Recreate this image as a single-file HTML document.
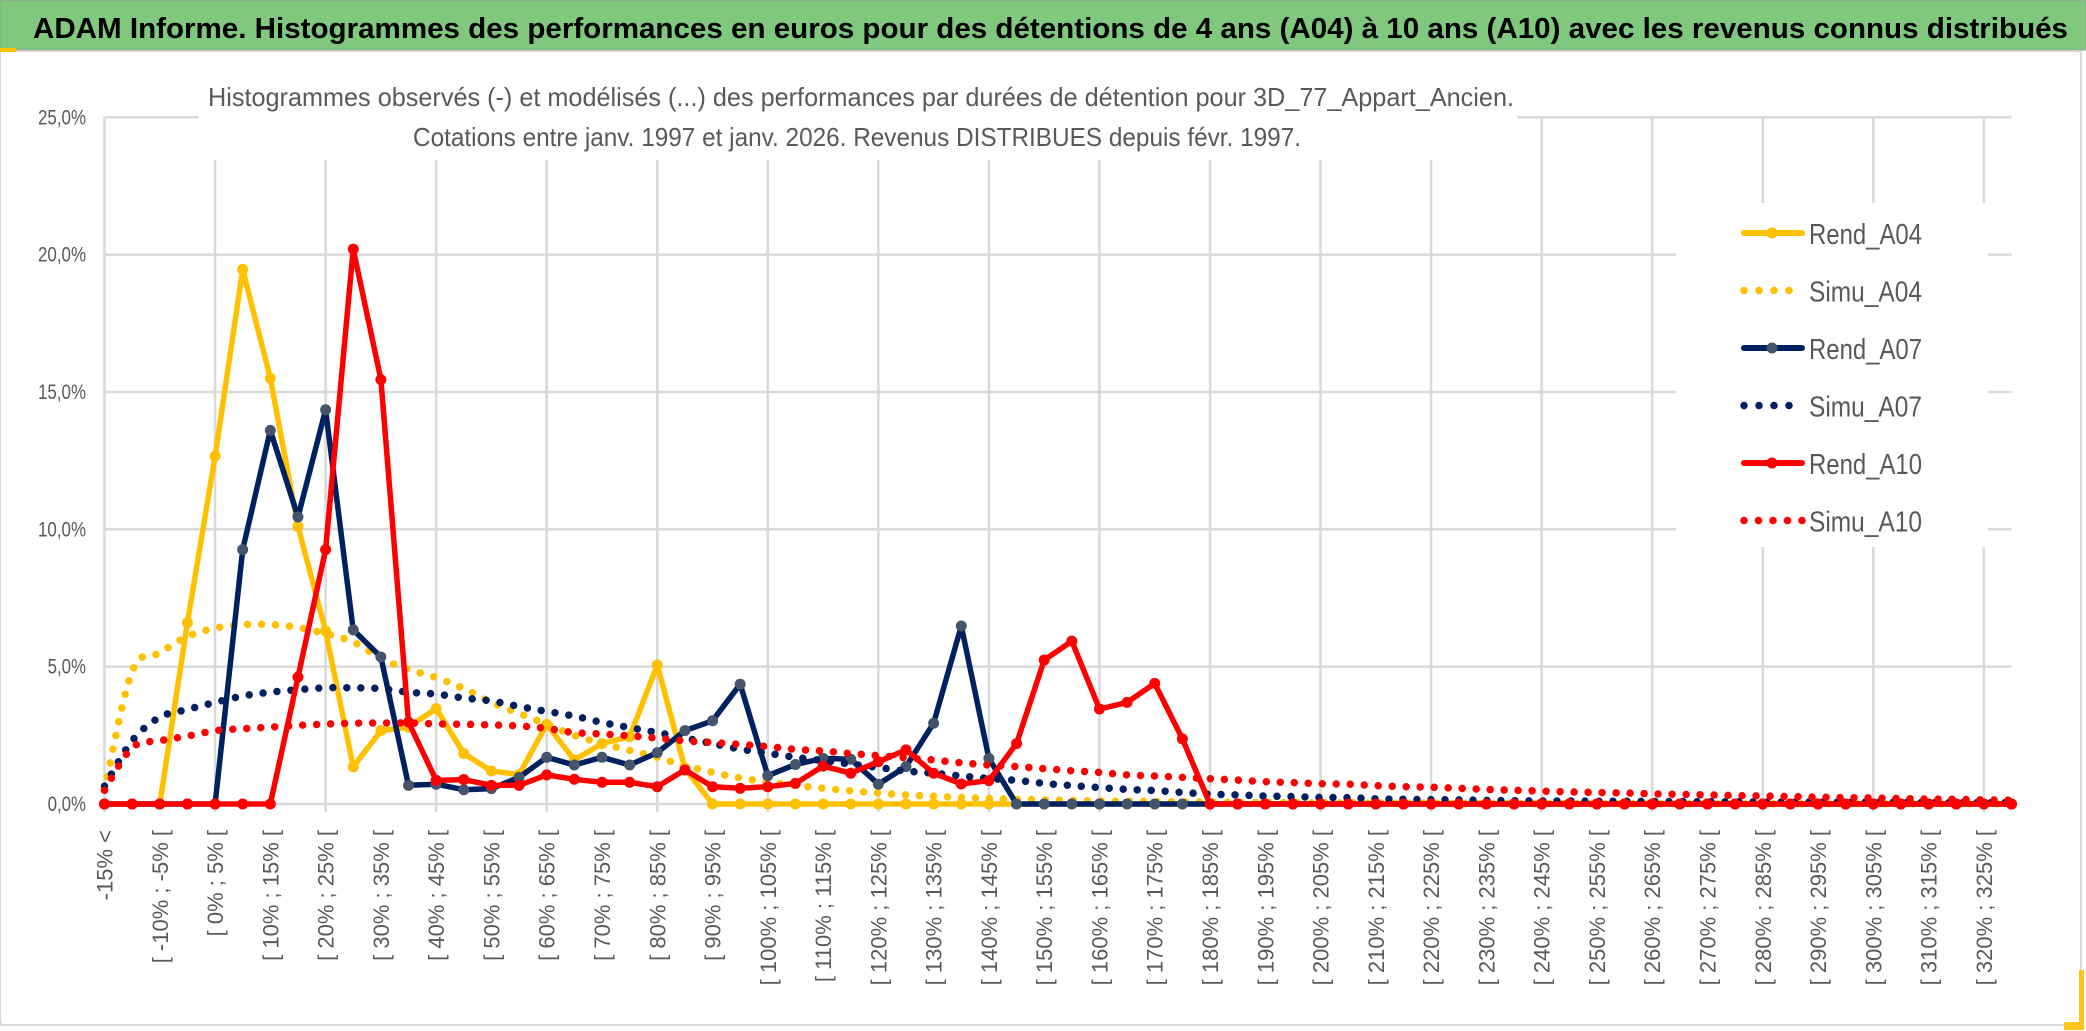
<!DOCTYPE html>
<html><head><meta charset="utf-8"><style>
html,body{margin:0;padding:0;background:#fff;}
svg{display:block;font-family:"Liberation Sans",Arial,sans-serif;}
</style></head><body>
<svg id="chart" width="2086" height="1031" viewBox="0 0 2086 1031" xmlns="http://www.w3.org/2000/svg">
  <rect x="0" y="0" width="2086" height="1031" fill="#fff"/>
  <rect x="1" y="52" width="2080" height="973" fill="#fff" stroke="#d9d9d9" stroke-width="2"/>
  <rect x="0" y="0" width="2086" height="50" fill="#7fc87e" stroke="#9a9a9a" stroke-width="1"/>
  <rect x="0" y="48" width="16" height="4" fill="#ffc000"/>
  <rect x="2064" y="970" width="20" height="60" fill="#ffc000" opacity="0.9"/>
  <rect x="1" y="52" width="2078" height="970" fill="#fff"/>
  <text x="33" y="38" font-size="29" font-weight="bold" fill="#000" textLength="2035" lengthAdjust="spacingAndGlyphs">ADAM Informe. Histogrammes des performances en euros pour des détentions de 4 ans (A04) à 10 ans (A10) avec les revenus connus distribués</text>
  <g id="grid"></g>
  <g id="yticks"></g>
  <g id="xticks"></g>
  <rect x="198" y="70" width="1319" height="90" fill="#fff"/>
  <text x="208" y="106" font-size="26" fill="#595959" textLength="1306" lengthAdjust="spacingAndGlyphs">Histogrammes observés (-) et modélisés (...) des performances  par durées de détention pour 3D_77_Appart_Ancien.</text>
  <text x="413" y="146" font-size="26" fill="#595959" textLength="888" lengthAdjust="spacingAndGlyphs">Cotations entre janv. 1997 et janv. 2026. Revenus DISTRIBUES depuis févr. 1997.</text>
  <g id="series"></g>
  <rect x="1676" y="203" width="312" height="344" fill="#fff"/>
  <g id="legend"></g>
</svg>
<script>
const categories = (function(){ const c=["-15% <"]; for(let k=1;k<70;k++){const lo=5*k-20; c.push("[ "+lo+"% ; "+(lo+5)+"% [");} return c; })();
const yTicks = [0,5,10,15,20,25];
const yTickLabels = ["0,0%","5,0%","10,0%","15,0%","20,0%","25,0%"];
const rendA04 = [0,0,0,6.6,12.66,19.46,15.5,10.1,6.3,1.35,2.67,2.8,3.47,1.84,1.2,1.07,2.9,1.6,2.2,2.45,5.06,1.3,
 0,0,0,0,0,0,0,0,0,0,0,0,0,0,0,0,0,0,0,0,0,0,0,0,0,0,0,0,0,0,0,0,0,0,0,0,0,0,0,0,0,0,0,0,0,0,0,0];
const simuA04 = [0.5,4.83,5.5,6.1,6.4,6.53,6.53,6.43,6.2,5.9,5.3,4.9,4.6,4.2,3.7,3.3,2.9,
 2.5,2.2,1.95,1.7,1.4,1.15,0.95,0.8,0.68,0.57,0.48,0.4,0.33,0.28,0.24,0.2,0.17,0.15,
 0.13,0.11,0.1,0.09,0.08,0.07,0.06,0.05,0.05,0.04,0.04,0.03,0.03,0.03,0.02,0.02,0.02,0.02,0.02,0.01,0.01,0.01,0.01,0.01,0.01,0.01,0.01,0.01,0.01,0.01,0.01,0.01,0.01,0.01,0.01];
const rendA07 = [0,0,0,0,0,9.26,13.6,10.45,14.35,6.34,5.35,0.68,0.72,0.52,0.56,0.97,1.7,1.42,1.7,1.42,1.87,2.67,3.03,4.36,1.03,1.44,1.66,1.63,0.72,1.36,2.94,6.48,1.66,
 0,0,0,0,0,0,0,0,0,0,0,0,0,0,0,0,0,0,0,0,0,0,0,0,0,0,0,0,0,0,0,0,0,0,0,0,0];
const simuA07 = [0.65,2.3,3.16,3.44,3.7,3.93,4.07,4.16,4.23,4.23,4.2,4.07,4.0,3.86,3.75,3.55,3.37,
 3.2,2.97,2.78,2.6,2.4,2.2,2.0,1.85,1.7,1.58,1.45,1.33,1.2,1.12,1.02,0.93,0.86,0.75,
 0.67,0.6,0.53,0.49,0.42,0.36,0.33,0.29,0.27,0.24,0.23,0.19,0.17,0.16,0.15,0.13,0.12,
 0.11,0.11,0.1,0.1,0.09,0.09,0.08,0.08,0.07,0.07,0.07,0.06,0.06,0.06,0.05,0.05,0.05,0.05];
const rendA10 = [0,0,0,0,0,0,0,4.62,9.26,20.2,15.45,2.98,0.86,0.89,0.68,0.68,1.06,0.9,0.79,0.79,0.63,1.24,0.63,0.57,0.63,0.75,1.38,1.12,1.54,1.97,1.12,0.73,0.85,2.2,5.24,5.93,3.46,3.7,4.39,2.37,
 0,0,0,0,0,0,0,0,0,0,0,0,0,0,0,0,0,0,0,0,0,0,0,0,0,0,0,0,0,0];
const simuA10 = [0.5,2.05,2.3,2.47,2.67,2.74,2.8,2.86,2.91,2.94,2.95,2.95,2.92,2.9,2.88,2.84,2.75,
 2.6,2.55,2.48,2.4,2.3,2.24,2.17,2.09,1.99,1.93,1.84,1.76,1.68,1.6,1.5,1.42,1.36,
 1.29,1.21,1.15,1.06,1.02,0.97,0.92,0.87,0.81,0.78,0.74,0.72,0.67,0.63,0.61,0.57,0.53,0.5,0.47,
 0.44,0.42,0.4,0.37,0.35,0.33,0.31,0.29,0.27,0.25,0.23,0.22,0.2,0.18,0.17,0.15,0.14];

const NS="http://www.w3.org/2000/svg";
const X0=104.5, X1=2011.5, Y0=804, PX_PER_PCT=27.47;
function xAt(i){ return X0 + i*(X1-X0)/(categories.length-1); }
function yAt(v){ return Y0 - v*PX_PER_PCT; }
function mk(tag, attrs, parent){ const e=document.createElementNS(NS,tag); for(const k in attrs) e.setAttribute(k, attrs[k]); parent.appendChild(e); return e; }

const grid=document.getElementById('grid');
yTicks.forEach(function(t){
  const l=mk('line',{x1:X0,x2:X1,y1:yAt(t),y2:yAt(t),stroke:'#d9d9d9','stroke-width':2.5},grid);
  
  
});
for(let i=0;i<categories.length;i+=4){
  const l=mk('line',{x1:xAt(i),x2:xAt(i),y1:yAt(25),y2:Y0+8,stroke:'#d9d9d9','stroke-width':2.5},grid);
  
  
}
const yt=document.getElementById('yticks');
yTicks.forEach(function(t,k){
  const tx=mk('text',{x:86,y:yAt(t)+7,'text-anchor':'end','font-size':21,fill:'#595959',textLength:yTickLabels[k].length*9.6,lengthAdjust:'spacingAndGlyphs'},yt);
  tx.textContent=yTickLabels[k];
  
  
});
const xt=document.getElementById('xticks');
for(let i=0;i<categories.length;i+=2){
  const x=xAt(i)+8, y=830;
  const tx=mk('text',{x:x,y:y,'text-anchor':'end','font-size':22,fill:'#595959',transform:'rotate(-90 '+x+' '+y+')'},xt);
  tx.textContent=categories[i];
  
  
}
function smoothPath(vals){
  const p=vals.map(function(v,i){return [xAt(i),yAt(v)];});
  let d='M'+p[0][0]+','+p[0][1];
  for(let i=0;i<p.length-1;i++){
    const a=p[Math.max(i-1,0)], b=p[i], c=p[i+1], e=p[Math.min(i+2,p.length-1)];
    const c1=[b[0]+(c[0]-a[0])/6, b[1]+(c[1]-a[1])/6];
    const c2=[c[0]-(e[0]-b[0])/6, c[1]-(e[1]-b[1])/6];
    d+=' C'+c1[0].toFixed(1)+','+c1[1].toFixed(1)+' '+c2[0].toFixed(1)+','+c2[1].toFixed(1)+' '+c[0].toFixed(1)+','+c[1].toFixed(1);
  }
  return d;
}
function linePath(vals){ return vals.map(function(v,i){return (i?'L':'M')+xAt(i).toFixed(1)+','+yAt(v).toFixed(1);}).join(' '); }
const ser=document.getElementById('series');
function drawRend(vals,color,mcolor,name){
  const g=mk('g',{},ser);
  
  
  mk('path',{d:linePath(vals),fill:'none',stroke:color,'stroke-width':5.5,'stroke-linejoin':'round'},g);
  vals.forEach(function(v,i){
    const c=mk('circle',{cx:xAt(i),cy:yAt(v),r:5.5,fill:mcolor},g);
    
    
  });
}
function drawSimu(vals,color,name){
  const p=mk('path',{d:smoothPath(vals),fill:'none',stroke:color,'stroke-width':7.5,'stroke-linecap':'round','stroke-dasharray':'0 14'},ser);
  
  
}
drawRend(rendA04,'#ffc000','#ffc000','rend-a04-line');
drawSimu(simuA04,'#ffc000','simu-a04-line');
drawRend(rendA07,'#002060','#44546a','rend-a07-line');
drawSimu(simuA07,'#002060','simu-a07-line');
drawRend(rendA10,'#ff0000','#ff0000','rend-a10-line');
drawSimu(simuA10,'#ff0000','simu-a10-line');

const legendNames=["Rend_A04","Simu_A04","Rend_A07","Simu_A07","Rend_A10","Simu_A10"];
const legendColors=["#ffc000","#ffc000","#002060","#002060","#ff0000","#ff0000"];
const leg=document.getElementById('legend');
legendNames.forEach(function(n,k){
  const y=233+k*57.5;
  const g=mk('g',{},leg);
  
  
  if(n.indexOf('Rend')===0){
    mk('line',{x1:1744,x2:1802,y1:y,y2:y,stroke:legendColors[k],'stroke-width':6,'stroke-linecap':'round'},g);
    mk('circle',{cx:1772,cy:y,r:5.5,fill:k===2?'#44546a':legendColors[k]},g);
  } else {
    const cnt = k===5?5:4; const sp = k===5?14.5:15;
    for(let j=0;j<cnt;j++) mk('circle',{cx:1744+j*sp,cy:y,r:3.8,fill:legendColors[k]},g);
  }
  const tx=mk('text',{x:1809,y:y+11,'font-size':29,fill:'#595959',textLength:113,lengthAdjust:'spacingAndGlyphs'},g);
  tx.textContent=n;
  
  
});
</script>
</body></html>
